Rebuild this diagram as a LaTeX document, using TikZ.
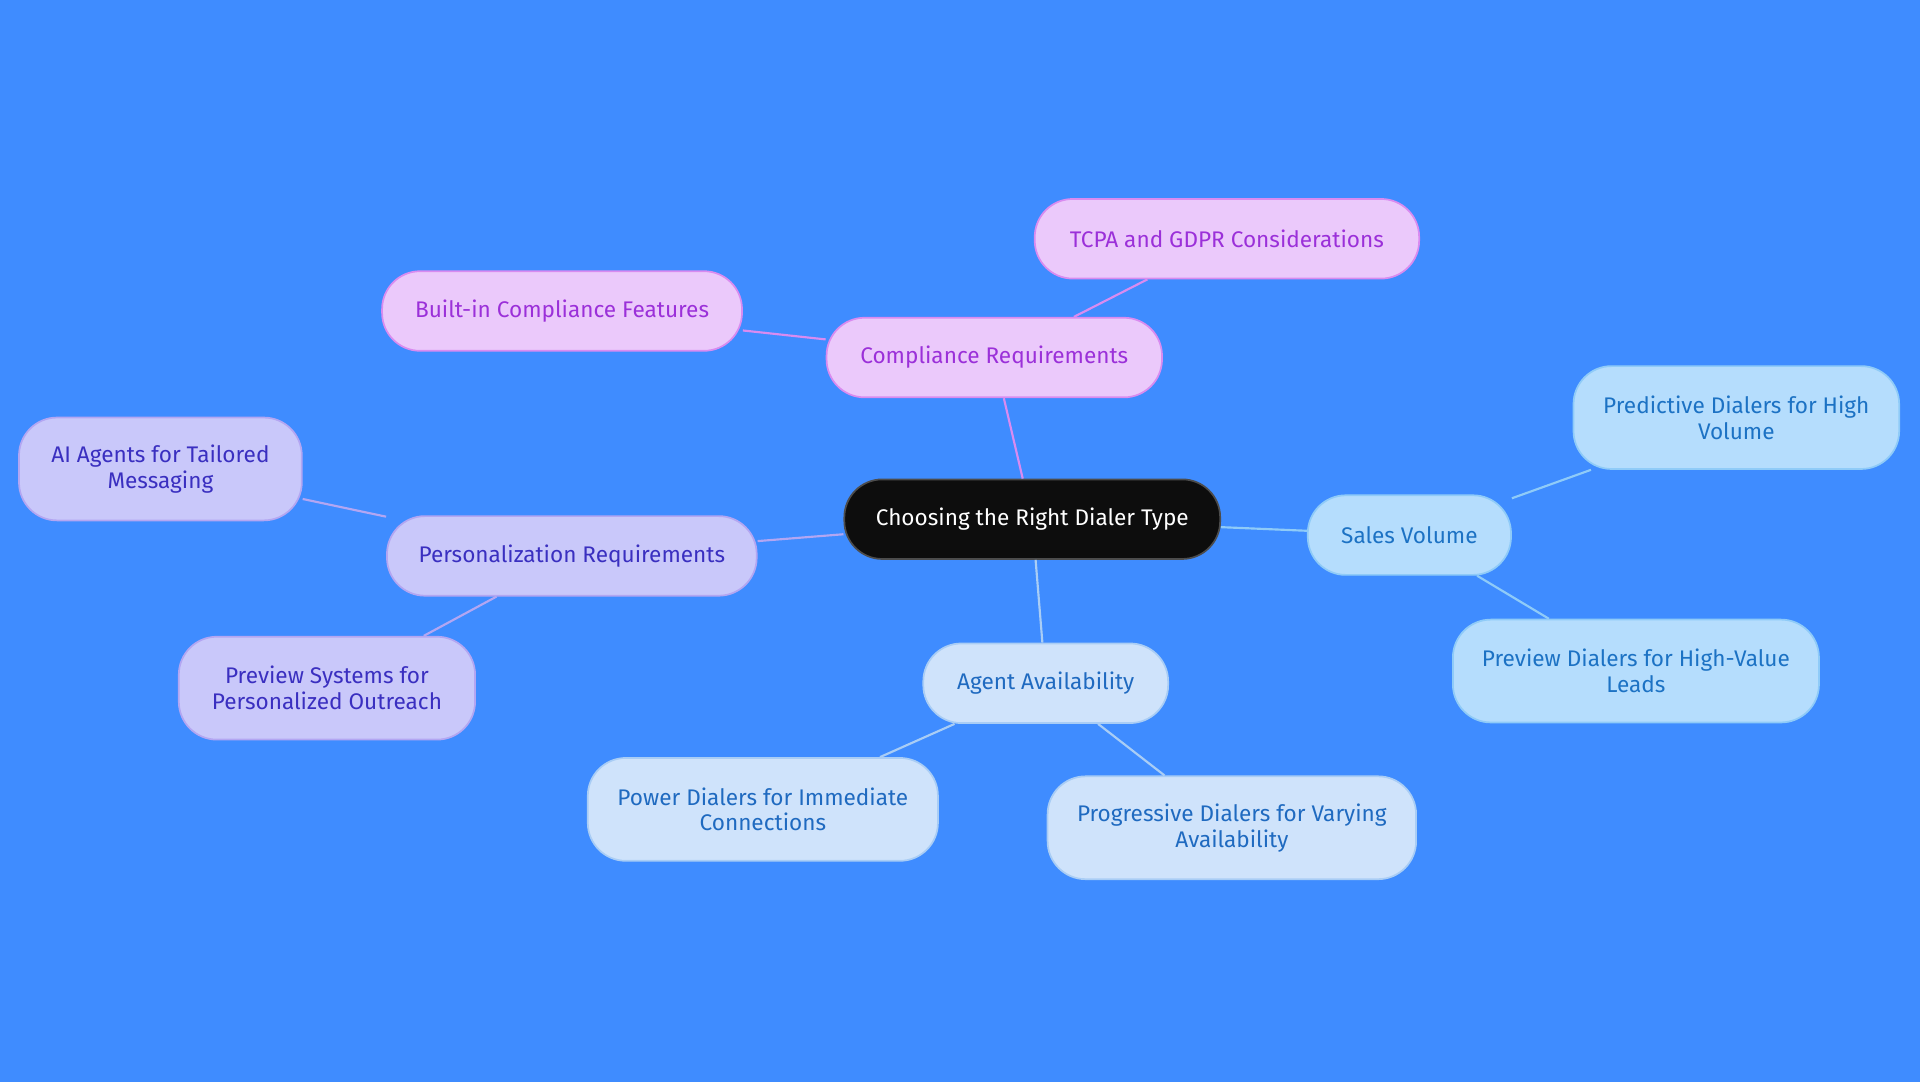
\documentclass[tikz,border=0pt]{standalone}
\usepackage{fontspec}
\setmainfont{Fira Sans}
\usetikzlibrary{positioning}
\definecolor{bg}{HTML}{3F8CFF}
\definecolor{pinkfill}{HTML}{EBC9FB}
\definecolor{pinkline}{HTML}{D98BF0}
\definecolor{pinktext}{HTML}{9B30D9}
\definecolor{lilacfill}{HTML}{C9C8FA}
\definecolor{lilacline}{HTML}{B3A6F2}
\definecolor{lilactext}{HTML}{3A2FC0}
\definecolor{palefill}{HTML}{CFE3FB}
\definecolor{paleline}{HTML}{A9CDF5}
\definecolor{paletext}{HTML}{1F6AC0}
\definecolor{skyfill}{HTML}{B5DDFD}
\definecolor{skyline}{HTML}{8FCBF8}
\definecolor{skytext}{HTML}{1C72C4}
\tikzset{
  box/.style={rounded corners=0.62cm, minimum height=1.3cm, align=center,
    font=\fontsize{10.5}{12}\selectfont, line width=0.8pt},
  root/.style={box, fill=black!95, draw=black!70, text=white},
  pinkbox/.style={box, fill=pinkfill, draw=pinkline, text=pinktext},
  lilacbox/.style={box, fill=lilacfill, draw=lilacline, text=lilactext},
  palebox/.style={box, fill=palefill, draw=paleline, text=paletext},
  skybox/.style={box, fill=skyfill, draw=skyline, text=skytext},
  tall/.style={minimum height=1.68cm}
}
\begin{document}
\begin{tikzpicture}[x=0.02cm,y=-0.02cm]
\fill[bg] (0,0) rectangle (1568,884);
\node[root, minimum width=6.14cm] (root) at (843,424) {Choosing the Right Dialer Type};

\node[pinkbox, minimum width=5.48cm] (comp) at (812,292) {Compliance Requirements};
\node[pinkbox, minimum width=6.28cm] (tcpa) at (1002,195) {TCPA and GDPR Considerations};
\node[pinkbox, minimum width=5.88cm] (built) at (459,254) {Built-in Compliance Features};

\node[lilacbox, minimum width=6.04cm] (pers) at (467,454) {Personalization Requirements};
\node[lilacbox, tall, minimum width=4.62cm] (ai) at (131,383) {AI Agents for Tailored\\Messaging};
\node[lilacbox, tall, minimum width=4.84cm] (prevsys) at (267,562) {Preview Systems for\\Personalized Outreach};

\node[palebox, minimum width=4.0cm] (agent) at (854,558) {Agent Availability};
\node[palebox, tall, minimum width=5.72cm] (power) at (623,661) {Power Dialers for Immediate\\Connections};
\node[palebox, tall, minimum width=6.02cm] (prog) at (1006,676) {Progressive Dialers for Varying\\Availability};

\node[skybox, minimum width=3.32cm] (sales) at (1151,437) {Sales Volume};
\node[skybox, tall, minimum width=5.32cm] (pred) at (1418,341) {Predictive Dialers for High\\Volume};
\node[skybox, tall, minimum width=5.98cm] (prevdial) at (1336,548) {Preview Dialers for High-Value\\Leads};

% connectors
\draw[pinkline, line width=1pt] (root) -- (comp) (comp) -- (tcpa) (comp) -- (built);
\draw[lilacline, line width=1pt] (root) -- (pers) (pers) -- (ai) (pers) -- (prevsys);
\draw[paleline, line width=1pt] (root) -- (agent) (agent) -- (power) (agent) -- (prog);
\draw[skyline, line width=1pt] (root) -- (sales) (sales) -- (pred) (sales) -- (prevdial);
\end{tikzpicture}
\end{document}
